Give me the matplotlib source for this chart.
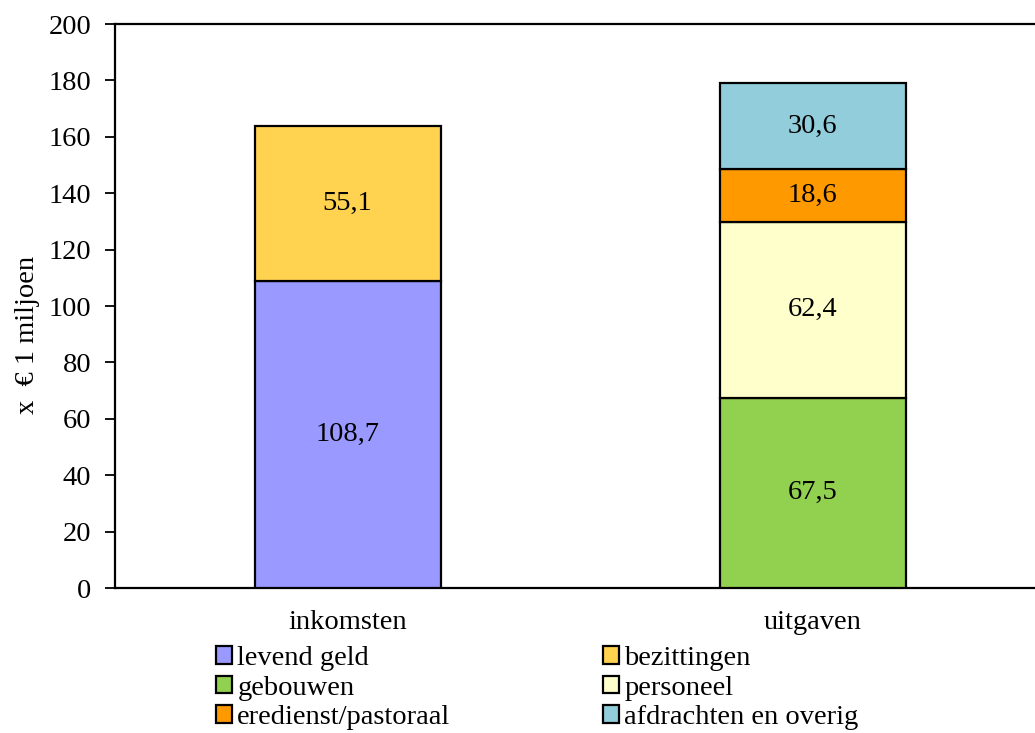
import matplotlib
matplotlib.use('Agg')
import matplotlib.pyplot as plt
from matplotlib.patches import Patch

plt.rcParams['font.family'] = ['Liberation Serif', 'DejaVu Serif']

# categories and series
categories = ['inkomsten', 'uitgaven']
series_names = ['levend geld', 'bezittingen', 'gebouwen', 'personeel',
                'eredienst/pastoraal', 'afdrachten en overig']
levend_geld = [108.7, 0]
bezittingen = [55.1, 0]
gebouwen = [0, 67.5]
personeel = [0, 62.4]
eredienst = [0, 18.6]
afdrachten = [0, 30.6]
colors = ['#9999FF', '#FFD34F', '#92D050', '#FFFFCC', '#FF9900', '#92CDDC']
yticks = [0, 20, 40, 60, 80, 100, 120, 140, 160, 180, 200]

fs = 20.5

fig = plt.figure(figsize=(10.35, 7.33), dpi=100)
ax = fig.add_axes([115 / 1035, 1 - 588 / 733, 930 / 1035, 564 / 733])

x = [0.5, 1.5]
bottom = [0, 0]
handles = []
for vals, name, col in zip([levend_geld, bezittingen, gebouwen, personeel, eredienst, afdrachten],
                           series_names, colors):
    for i in range(2):
        if vals[i] > 0:
            ax.bar(x[i], vals[i], bottom=bottom[i], width=0.4, color=col,
                   edgecolor='black', linewidth=1.6, zorder=3)
            ax.text(x[i], bottom[i] + vals[i] / 2, f'{vals[i]:.1f}'.replace('.', ','),
                    ha='center', va='center', fontsize=fs, zorder=4)
            bottom[i] += vals[i]
    handles.append(Patch(facecolor=col, edgecolor='black', linewidth=1.6, label=name))

ax.set_xlim(0, 2)
ax.set_ylim(0, 200)
ax.set_yticks(yticks)
ax.set_xticks(x)
ax.set_xticklabels(categories)
ax.tick_params(axis='y', direction='out', length=7, width=1.3, labelsize=fs, pad=10)
ax.tick_params(axis='x', length=0, labelsize=fs, pad=16)
for s in ax.spines.values():
    s.set_linewidth(1.6)
ax.set_ylabel('x  € 1 miljoen', fontsize=fs)
ax.yaxis.set_label_coords(-0.081, 0.449)

# legend in two blocks
leg_kw = dict(loc='upper left', frameon=False, fontsize=fs,
              handlelength=0.55, handleheight=0.55, handletextpad=0.2,
              labelspacing=0.16, borderpad=0, borderaxespad=0)
fig.legend(handles=[handles[0], handles[2], handles[4]],
           bbox_to_anchor=(216 / 1035, 1 - 646 / 733), **leg_kw)
fig.legend(handles=[handles[1], handles[3], handles[5]],
           bbox_to_anchor=(603 / 1035, 1 - 646 / 733), **leg_kw)

fig.savefig('out.png', dpi=100)
